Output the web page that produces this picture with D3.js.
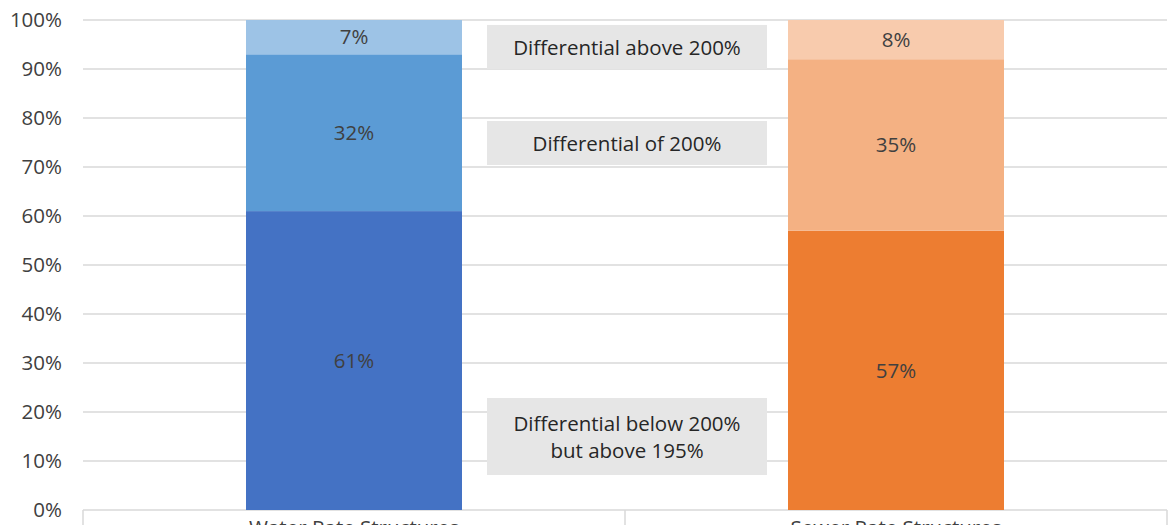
<!DOCTYPE html>
<html>
<head>
<meta charset="utf-8">
<script src="https://cdn.jsdelivr.net/npm/d3@7"></script>
<style>
  body { margin: 0; background: #fff; }
  svg { display: block; font-family: "Open Sans", "Noto Sans", sans-serif; }
</style>
</head>
<body>
<div id="chart"></div>
<script>
// data
var categories = ["Water Rate Structures", "Sewer Rate Structures"];
var series = ["below", "of", "above"];
var waterValues = [0.61, 0.32, 0.07];
var sewerValues = [0.57, 0.35, 0.08];
var waterColors = ["#4472C4", "#5B9BD5", "#9DC3E6"];
var sewerColors = ["#ED7D31", "#F4B183", "#F8CBAD"];
var yTicks = [0, 0.1, 0.2, 0.3, 0.4, 0.5, 0.6, 0.7, 0.8, 0.9, 1];
var noteLines = [["Differential above 200%"], ["Differential of 200%"], ["Differential below 200%", "but above 195%"]];
var noteCenters = [0.945, 0.749, 0.15];

var W = 1169, H = 525;
var margin = {top: 20, right: 2, bottom: 15, left: 83};
var fs = "20.5px";

var svg = d3.select("#chart").append("svg")
    .attr("width", W)
    .attr("height", H);

var x = d3.scaleBand()
    .domain(categories)
    .range([margin.left, W - margin.right])
    .paddingInner(0)
    .paddingOuter(0);

var y = d3.scaleLinear()
    .domain([0, 1])
    .range([H - margin.bottom, margin.top]);

var barW = 216;

// gridlines
svg.append("g").selectAll("line")
    .data(yTicks)
  .enter().append("line")
    .attr("x1", margin.left)
    .attr("x2", W - margin.right)
    .attr("y1", function(d) { return y(d); })
    .attr("y2", function(d) { return y(d); })
    .style("stroke", "#d9d9d9")
    .style("stroke-width", 1.5);

// y labels
svg.append("g").selectAll("text")
    .data(yTicks)
  .enter().append("text")
    .attr("x", 62)
    .attr("y", function(d) { return y(d); })
    .attr("dy", "0.35em")
    .attr("text-anchor", "end")
    .style("font-size", fs)
    .style("fill", "#404040")
    .text(function(d) { return d3.format(".0%")(d); });

// category axis box
var axisG = svg.append("g");
var bounds = [margin.left, x(categories[1]), W - margin.right];
axisG.selectAll("line.v")
    .data(bounds)
  .enter().append("line")
    .attr("x1", function(d) { return d; })
    .attr("x2", function(d) { return d; })
    .attr("y1", y(0))
    .attr("y2", H)
    .style("stroke", "#d9d9d9")
    .style("stroke-width", 1.5);
axisG.selectAll("text")
    .data(categories)
  .enter().append("text")
    .attr("x", function(d) { return x(d) + x.bandwidth() / 2; })
    .attr("y", y(0) + 25)
    .attr("text-anchor", "middle")
    .style("font-size", fs)
    .style("fill", "#404040")
    .text(function(d) { return d; });

// stacked bars
function drawBar(cat, vals, colors) {
  var cx = x(cat) + x.bandwidth() / 2;
  var acc = 0;
  var g = svg.append("g");
  vals.forEach(function(v, i) {
    var y0 = acc, y1 = acc + v;
    acc = y1;
    g.append("rect")
      .attr("x", cx - barW / 2)
      .attr("width", barW)
      .attr("y", y(y1))
      .attr("height", y(y0) - y(y1))
      .style("fill", colors[i]);
    g.append("text")
      .attr("x", cx)
      .attr("y", (y(y0) + y(y1)) / 2)
      .attr("dy", "0.35em")
      .attr("text-anchor", "middle")
      .style("font-size", fs)
      .style("fill", "#404040")
      .text(d3.format(".0%")(v));
  });
}
drawBar(categories[0], waterValues, waterColors);
drawBar(categories[1], sewerValues, sewerColors);

// annotation boxes
var noteX = x(categories[1]);
var lineH = 27;
noteLines.forEach(function(lines, i) {
  var cy = y(noteCenters[i]);
  var bh = lines.length === 1 ? 44 : 77;
  var g = svg.append("g");
  g.append("rect")
    .attr("x", noteX - 138)
    .attr("width", 280)
    .attr("y", cy - bh / 2)
    .attr("height", bh)
    .style("fill", "#e6e6e6");
  lines.forEach(function(t, j) {
    g.append("text")
      .attr("x", noteX + 2)
      .attr("y", cy + (j - (lines.length - 1) / 2) * lineH + 1)
      .attr("dy", "0.35em")
      .attr("text-anchor", "middle")
      .style("font-size", fs)
      .style("fill", "#262626")
      .text(t);
  });
});
</script>
</body>
</html>
